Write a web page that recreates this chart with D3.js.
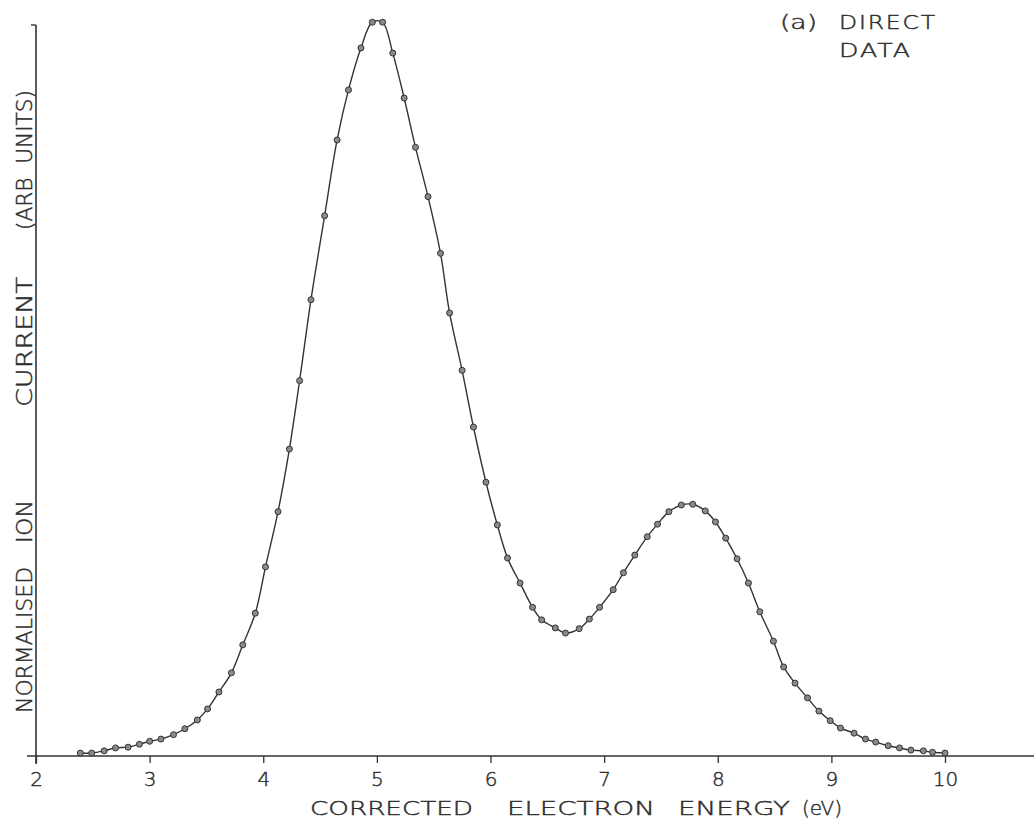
<!DOCTYPE html>
<html>
<head>
<meta charset="utf-8">
<script src="https://cdn.jsdelivr.net/npm/d3@7"></script>
<style>
  html, body { margin: 0; padding: 0; background: #fff; }
  svg text { font-family: "DejaVu Sans", sans-serif; font-weight: 200; fill: #2e2e2e; stroke: #2e2e2e; stroke-width: 0.45; }
</style>
</head>
<body>
<div id="chart"></div>
<script>
const w = 1034,
      h = 836;

// measured points (energy in eV, normalised ion current, arb units)
const energy = [2.39, 2.49, 2.60, 2.70, 2.81, 2.91, 3.00, 3.10, 3.21, 3.31, 3.42, 3.51, 3.61, 3.72, 3.82, 3.93,
                4.02, 4.13, 4.23, 4.32, 4.42, 4.54, 4.65, 4.75, 4.86, 4.96, 5.05, 5.14, 5.24, 5.34, 5.45, 5.56,
                5.64, 5.75, 5.85, 5.96, 6.06, 6.15, 6.26, 6.37, 6.45, 6.57, 6.66, 6.78, 6.87, 6.96, 7.08, 7.17,
                7.27, 7.38, 7.47, 7.57, 7.68, 7.78, 7.89, 7.98, 8.07, 8.17, 8.27, 8.37, 8.49, 8.58, 8.68, 8.79,
                8.89, 8.99, 9.08, 9.20, 9.30, 9.39, 9.50, 9.60, 9.70, 9.81, 9.89, 10.00];
const current = [0.004, 0.004, 0.007, 0.011, 0.012, 0.016, 0.020, 0.023, 0.029, 0.037, 0.049, 0.064, 0.087, 0.113, 0.151, 0.194,
                 0.257, 0.332, 0.417, 0.510, 0.620, 0.734, 0.837, 0.905, 0.962, 0.997, 0.997, 0.955, 0.894, 0.827, 0.760, 0.683,
                 0.602, 0.524, 0.447, 0.372, 0.314, 0.269, 0.235, 0.202, 0.185, 0.174, 0.167, 0.173, 0.186, 0.202, 0.226, 0.249,
                 0.273, 0.298, 0.315, 0.332, 0.341, 0.342, 0.333, 0.318, 0.296, 0.268, 0.235, 0.196, 0.156, 0.121, 0.099, 0.079,
                 0.061, 0.048, 0.038, 0.031, 0.023, 0.019, 0.014, 0.011, 0.008, 0.007, 0.005, 0.004];
const xTicks = [2, 3, 4, 5, 6, 7, 8, 9, 10];
const xTickLabels = ['2', '3', '4', '5', '6', '7', '8', '9', '10'];
const xLabelWords = ['CORRECTED', 'ELECTRON', 'ENERGY', '(eV)'];
const yLabelWords = ['NORMALISED', 'ION', 'CURRENT', '(ARB UNITS)'];
const noteLines = ['DIRECT', 'DATA'];

const data = energy.map((e, i) => ({e: e, c: current[i]}));

const svg = d3.select('#chart').append('svg')
              .attr('width', w)
              .attr('height', h);

const x = d3.scaleLinear().domain([2, 10]).range([36, 945]);
const y = d3.scaleLinear().domain([0, 1]).range([756, 20]);

const ink = '#333';

// x axis: ticks only, the base line is drawn longer by hand below
const xAxis = d3.axisBottom(x)
                .tickValues(xTicks)
                .tickFormat((d, i) => xTickLabels[i])
                .tickSize(7)
                .tickPadding(9);
const gx = svg.append('g')
              .attr('transform', `translate(0,${y(0)})`)
              .call(xAxis);
gx.select('.domain').remove();
gx.selectAll('.tick line').attr('stroke', ink).attr('stroke-width', 1.3);
gx.selectAll('.tick text').attr('font-size', 20).style('font-family', '"DejaVu Sans", sans-serif').attr('fill', ink);

svg.append('line')
   .attr('x1', 27).attr('x2', w)
   .attr('y1', y(0)).attr('y2', y(0))
   .attr('stroke', ink).attr('stroke-width', 1.6);

// y axis, no ticks except the small hook at the top
svg.append('line')
   .attr('x1', x(2)).attr('x2', x(2))
   .attr('y1', y(0) + 8).attr('y2', 25)
   .attr('stroke', ink).attr('stroke-width', 1.6);
svg.append('line')
   .attr('x1', x(2) - 5).attr('x2', x(2))
   .attr('y1', 25).attr('y2', 25)
   .attr('stroke', ink).attr('stroke-width', 1.4);

// smooth curve through the points
const line = d3.line()
               .x(d => x(d.e))
               .y(d => y(d.c))
               .curve(d3.curveCatmullRom.alpha(0.5));

svg.append('path')
   .datum(data)
   .attr('d', line)
   .attr('fill', 'none')
   .attr('stroke', ink)
   .attr('stroke-width', 1.4);

svg.selectAll('circle.pt')
   .data(data)
   .enter()
   .append('circle')
   .attr('class', 'pt')
   .attr('cx', d => x(d.e))
   .attr('cy', d => y(d.c))
   .attr('r', 3)
   .attr('fill', '#8a8a8a')
   .attr('stroke', '#333')
   .attr('stroke-width', 1);

// axis titles, hand lettered so each word is placed on its own
const xWordPos = [[310, 163], [507, 148], [678, 112], [802, 40]];
svg.selectAll('text.xlab')
   .data(xLabelWords)
   .enter()
   .append('text')
   .attr('class', 'xlab')
   .attr('x', (d, i) => xWordPos[i][0])
   .attr('y', 815)
   .attr('font-size', 20)
   .attr('textLength', (d, i) => xWordPos[i][1])
   .attr('lengthAdjust', 'spacingAndGlyphs')
   .text(d => d);

const yWordPos = [[713, 146], [543, 43], [407, 130], [230, 140]];
svg.selectAll('text.ylab')
   .data(yLabelWords)
   .enter()
   .append('text')
   .attr('class', 'ylab')
   .attr('transform', (d, i) => `translate(32,${yWordPos[i][0]}) rotate(-90)`)
   .attr('font-size', 21)
   .attr('textLength', (d, i) => yWordPos[i][1])
   .attr('lengthAdjust', 'spacingAndGlyphs')
   .style('white-space', 'pre')
   .text(d => d.replace(' ', '  '));

// panel note
svg.append('text')
   .attr('x', 780).attr('y', 29)
   .attr('font-size', 19)
   .attr('textLength', 37)
   .attr('lengthAdjust', 'spacingAndGlyphs')
   .text('(a)');
svg.selectAll('text.note')
   .data(noteLines)
   .enter()
   .append('text')
   .attr('class', 'note')
   .attr('x', 839)
   .attr('y', (d, i) => 29 + i * 28)
   .attr('font-size', 19)
   .attr('letter-spacing', 1.5)
   .attr('textLength', (d, i) => i === 0 ? 98 : 73)
   .attr('lengthAdjust', 'spacingAndGlyphs')
   .style('white-space', 'pre')
   .text(d => d);
</script>
</body>
</html>
